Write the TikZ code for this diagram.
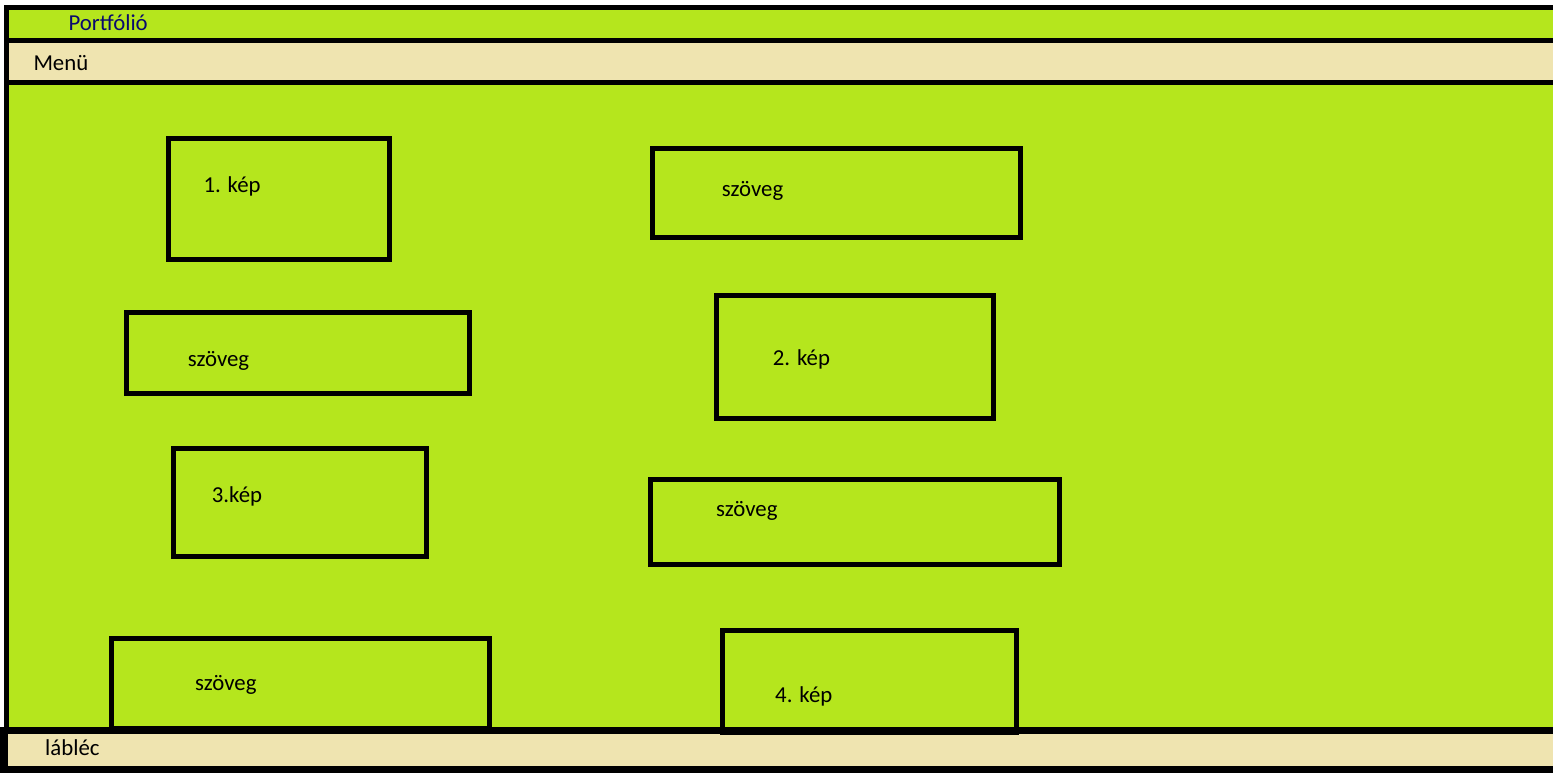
\documentclass[tikz,border=0pt]{standalone}
\usepackage{fontspec}
\setmainfont{Carlito}
\definecolor{lime}{RGB}{181,230,29}
\definecolor{beige}{RGB}{239,228,176}
\definecolor{navytext}{RGB}{10,10,110}
\tikzset{
  frame/.style={draw=black,line width=5.5pt},
  wbox/.style={draw=black,line width=5pt,anchor=north west,inner sep=0pt,outer sep=0pt},
  lbl/.style={anchor=base west,inner sep=0pt,font=\fontsize{22.8}{27}\selectfont},
}
\begin{document}
\begin{tikzpicture}[x=1pt,y=-1pt]
\useasboundingbox (0,0) rectangle (1553,772);
\fill[white] (0,0) rectangle (1553,772);
\begin{scope}
\clip (0,0) rectangle (1553,772);
% main frame
\draw[frame,fill=lime] (6.3,7.5) rectangle (1620,730);
\node[lbl,text=navytext] (title) at (68.3,30.7) {Portfólió};
% menu bar
\draw[frame,fill=beige] (6.3,40.3) rectangle (1620,82.5);
\node[lbl] (menu) at (33.3,70) {Menü};
% content boxes
\node[wbox,minimum width=220.5pt,minimum height=120.5pt] (k1) at (168.5,138.5) {};
\node[lbl] (k1t) at (203.3,192.7) {1. kép};
\node[wbox,minimum width=368pt,minimum height=88.5pt] (s1) at (652.5,148.5) {};
\node[lbl] (s1t) at (721.7,196.7) {szöveg};
\node[wbox,minimum width=343pt,minimum height=81pt] (s2) at (126.5,312.5) {};
\node[lbl] (s2t) at (187.7,366.7) {szöveg};
\node[wbox,minimum width=276.5pt,minimum height=123pt] (k2) at (716.5,295.8) {};
\node[lbl] (k2t) at (772.7,365) {2. kép};
\node[wbox,minimum width=253pt,minimum height=107.5pt] (k3) at (173.5,448.5) {};
\node[lbl] (k3t) at (211.7,502.7) {3.kép};
\node[wbox,minimum width=409.5pt,minimum height=85pt] (s3) at (650,479) {};
\node[lbl] (s3t) at (716,516.7) {szöveg};
\node[wbox,minimum width=378pt,minimum height=89.5pt] (s4) at (111,638.5) {};
\node[lbl] (s4t) at (195,690.7) {szöveg};
% footer
\draw[draw=black,line width=7pt,fill=beige] (4,730) rectangle (1620,769);
\node[lbl] (foot) at (45,755) {lábléc};
% box over footer
\node[wbox,minimum width=294pt,minimum height=102pt] (k4) at (722.5,630.8) {};
\node[lbl] (k4t) at (775,702.7) {4. kép};
\end{scope}
\end{tikzpicture}
\end{document}
